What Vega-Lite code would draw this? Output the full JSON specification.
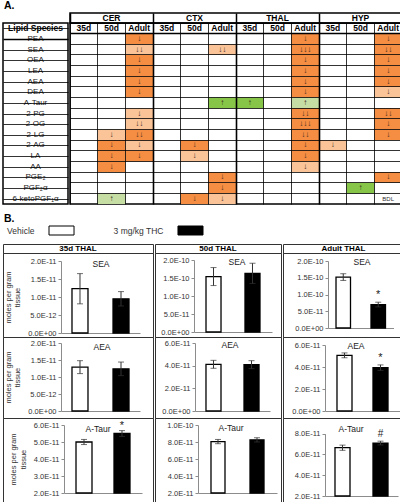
{
  "$schema": "https://vega.github.io/schema/vega-lite/v6.json",
  "padding": {"left": 2, "top": 0, "right": 0, "bottom": 0},
  "spacing": 0,
  "bounds": "full",
  "config": {
    "view": {"stroke": null},
    "font": "Liberation Sans",
    "text": {"font": "Liberation Sans", "color": "#222"},
    "axis": {"labelFont": "Liberation Sans", "titleFont": "Liberation Sans"},
    "title": {"font": "Liberation Sans", "color": "black"}
  },
  "datasets": {
    "names": [
      {"row": "hdr", "txt": "Lipid Species"},
      {"row": "PEA", "txt": "PEA"},
      {"row": "SEA", "txt": "SEA"},
      {"row": "OEA", "txt": "OEA"},
      {"row": "LEA", "txt": "LEA"},
      {"row": "AEA", "txt": "AEA"},
      {"row": "DEA", "txt": "DEA"},
      {"row": "A-Taur", "txt": "A-Taur"},
      {"row": "2-PG", "txt": "2-PG"},
      {"row": "2-OG", "txt": "2-OG"},
      {"row": "2-LG", "txt": "2-LG"},
      {"row": "2-AG", "txt": "2-AG"},
      {"row": "LA", "txt": "LA"},
      {"row": "AA", "txt": "AA"},
      {"row": "PGE2", "txt": "PGE₂"},
      {"row": "PGF2a", "txt": "PGF₂α"},
      {"row": "6-keto", "txt": "6-ketoPGF₁α"}
    ],
    "regions": [
      {"region": "CER"}, {"region": "CTX"}, {"region": "THAL"}, {"region": "HYP"}
    ],
    "cells": [
      {"col": "CER 35d", "row": "hdr", "kind": "hdr", "txt": "35d"},
      {"col": "CER 50d", "row": "hdr", "kind": "hdr", "txt": "50d"},
      {"col": "CER Adult", "row": "hdr", "kind": "hdr", "txt": "Adult"},
      {"col": "CTX 35d", "row": "hdr", "kind": "hdr", "txt": "35d"},
      {"col": "CTX 50d", "row": "hdr", "kind": "hdr", "txt": "50d"},
      {"col": "CTX Adult", "row": "hdr", "kind": "hdr", "txt": "Adult"},
      {"col": "THAL 35d", "row": "hdr", "kind": "hdr", "txt": "35d"},
      {"col": "THAL 50d", "row": "hdr", "kind": "hdr", "txt": "50d"},
      {"col": "THAL Adult", "row": "hdr", "kind": "hdr", "txt": "Adult"},
      {"col": "HYP 35d", "row": "hdr", "kind": "hdr", "txt": "35d"},
      {"col": "HYP 50d", "row": "hdr", "kind": "hdr", "txt": "50d"},
      {"col": "HYP Adult", "row": "hdr", "kind": "hdr", "txt": "Adult"},

      {"col": "CER 50d", "row": "2-LG", "kind": "light", "txt": "↓"},
      {"col": "CER 50d", "row": "2-AG", "kind": "dark", "txt": "↓"},
      {"col": "CER 50d", "row": "LA", "kind": "dark", "txt": "↓"},
      {"col": "CER 50d", "row": "AA", "kind": "dark", "txt": "↓"},
      {"col": "CER 50d", "row": "6-keto", "kind": "lgreen", "txt": "↑"},

      {"col": "CER Adult", "row": "PEA", "kind": "dark", "txt": "↓"},
      {"col": "CER Adult", "row": "SEA", "kind": "light", "txt": "↓↓"},
      {"col": "CER Adult", "row": "OEA", "kind": "dark", "txt": "↓"},
      {"col": "CER Adult", "row": "LEA", "kind": "dark", "txt": "↓"},
      {"col": "CER Adult", "row": "AEA", "kind": "dark", "txt": "↓"},
      {"col": "CER Adult", "row": "DEA", "kind": "dark", "txt": "↓"},
      {"col": "CER Adult", "row": "2-PG", "kind": "light", "txt": "↓"},
      {"col": "CER Adult", "row": "2-OG", "kind": "light", "txt": "↓↓"},
      {"col": "CER Adult", "row": "2-LG", "kind": "dark", "txt": "↓↓"},
      {"col": "CER Adult", "row": "2-AG", "kind": "light", "txt": "↓"},
      {"col": "CER Adult", "row": "LA", "kind": "dark", "txt": "↓"},

      {"col": "CTX 50d", "row": "2-AG", "kind": "dark", "txt": "↓"},
      {"col": "CTX 50d", "row": "LA", "kind": "light", "txt": "↓"},
      {"col": "CTX 50d", "row": "6-keto", "kind": "dark", "txt": "↓"},

      {"col": "CTX Adult", "row": "SEA", "kind": "light", "txt": "↓↓"},
      {"col": "CTX Adult", "row": "A-Taur", "kind": "green", "txt": "↑"},
      {"col": "CTX Adult", "row": "PGE2", "kind": "dark", "txt": "↓"},
      {"col": "CTX Adult", "row": "PGF2a", "kind": "dark", "txt": "↓"},
      {"col": "CTX Adult", "row": "6-keto", "kind": "light", "txt": "↓"},

      {"col": "THAL 35d", "row": "A-Taur", "kind": "green", "txt": "↑"},

      {"col": "THAL Adult", "row": "PEA", "kind": "dark", "txt": "↓"},
      {"col": "THAL Adult", "row": "SEA", "kind": "dark", "txt": "↓↓↓"},
      {"col": "THAL Adult", "row": "OEA", "kind": "dark", "txt": "↓"},
      {"col": "THAL Adult", "row": "LEA", "kind": "dark", "txt": "↓"},
      {"col": "THAL Adult", "row": "AEA", "kind": "dark", "txt": "↓"},
      {"col": "THAL Adult", "row": "DEA", "kind": "dark", "txt": "↓"},
      {"col": "THAL Adult", "row": "A-Taur", "kind": "lgreen", "txt": "↑"},
      {"col": "THAL Adult", "row": "2-PG", "kind": "dark", "txt": "↓↓"},
      {"col": "THAL Adult", "row": "2-OG", "kind": "dark", "txt": "↓↓↓"},
      {"col": "THAL Adult", "row": "2-LG", "kind": "dark", "txt": "↓↓"},
      {"col": "THAL Adult", "row": "2-AG", "kind": "dark", "txt": "↓"},
      {"col": "THAL Adult", "row": "LA", "kind": "dark", "txt": "↓"},
      {"col": "THAL Adult", "row": "AA", "kind": "light", "txt": "↓"},

      {"col": "HYP 35d", "row": "2-AG", "kind": "light", "txt": "↓"},
      {"col": "HYP 50d", "row": "PGF2a", "kind": "green", "txt": "↑"},

      {"col": "HYP Adult", "row": "PEA", "kind": "dark", "txt": "↓"},
      {"col": "HYP Adult", "row": "SEA", "kind": "dark", "txt": "↓↓"},
      {"col": "HYP Adult", "row": "OEA", "kind": "dark", "txt": "↓"},
      {"col": "HYP Adult", "row": "LEA", "kind": "dark", "txt": "↓"},
      {"col": "HYP Adult", "row": "AEA", "kind": "dark", "txt": "↓"},
      {"col": "HYP Adult", "row": "DEA", "kind": "light", "txt": "↓"},
      {"col": "HYP Adult", "row": "2-PG", "kind": "dark", "txt": "↓↓"},
      {"col": "HYP Adult", "row": "2-OG", "kind": "dark", "txt": "↓"},
      {"col": "HYP Adult", "row": "2-LG", "kind": "dark", "txt": "↓"},
      {"col": "HYP Adult", "row": "PGE2", "kind": "dark", "txt": "↓"},
      {"col": "HYP Adult", "row": "6-keto", "kind": "none", "txt": "BDL"}
    ]
  },
  "vconcat": [
    {
      "width": 397, "height": 12,
      "data": {"values": [{"label": "A."}]},
      "mark": {"type": "text", "align": "left", "fontSize": 10.5, "fontWeight": "bold", "color": "black", "dx": 1},
      "encoding": {
        "x": {"field": "label", "type": "nominal", "bandPosition": 0, "scale": {"type": "band", "paddingInner": 0, "paddingOuter": 0}, "axis": null},
        "text": {"field": "label"}
      }
    },
    {
      "spacing": 0,
      "bounds": "full",
      "hconcat": [
        {
          "spacing": 0,
          "bounds": "flush",
          "vconcat": [
            {
              "width": 65, "height": 10,
              "data": {"values": []},
              "mark": {"type": "text"},
              "encoding": {"text": {"value": ""}}
            },
            {
              "width": 65, "height": 181,
              "data": {"name": "names"},
              "view": {"stroke": "black", "strokeWidth": 1.5},
              "encoding": {
                "y": {"field": "row", "type": "nominal", "title": null,
                  "scale": {"domain": ["hdr","PEA","SEA","OEA","LEA","AEA","DEA","A-Taur","2-PG","2-OG","2-LG","2-AG","LA","AA","PGE2","PGF2a","6-keto"], "paddingInner": 0, "paddingOuter": 0},
                  "axis": {"grid": true, "bandPosition": 0, "labels": false, "ticks": false, "domain": false, "title": null, "gridColor": "black", "zindex": 1,
                    "gridWidth": {"condition": {"test": "datum.value == 'PEA'", "value": 1.5}, "value": 0.8}}}
              },
              "layer": [
                {"transform": [{"filter": "datum.row == 'hdr'"}],
                 "mark": {"type": "text", "fontWeight": "bold", "fontSize": 8.5, "color": "black"},
                 "encoding": {"text": {"field": "txt"}}},
                {"transform": [{"filter": "datum.row != 'hdr'"}],
                 "mark": {"type": "text", "fontSize": 8},
                 "encoding": {"text": {"field": "txt"}}}
              ]
            }
          ]
        },
        {
          "spacing": 0,
          "bounds": "flush",
          "vconcat": [
            {
              "width": 332, "height": 10,
              "data": {"name": "regions"},
              "view": {"stroke": "black", "strokeWidth": 1.5},
              "mark": {"type": "text", "fontWeight": "bold", "fontSize": 8.5, "color": "black"},
              "encoding": {
                "x": {"field": "region", "type": "nominal", "title": null,
                  "scale": {"type": "band", "domain": ["CER","CTX","THAL","HYP"], "paddingInner": 0, "paddingOuter": 0},
                  "axis": {"grid": true, "bandPosition": 0, "labels": false, "ticks": false, "domain": false, "title": null, "gridColor": "black", "gridWidth": 1.5, "zindex": 1}},
                "text": {"field": "region"}
              }
            },
            {
              "width": 332, "height": 181,
              "data": {"name": "cells"},
              "view": {"stroke": "black", "strokeWidth": 1.5},
              "encoding": {
                "x": {"field": "col", "type": "nominal", "title": null,
                  "scale": {"domain": ["CER 35d","CER 50d","CER Adult","CTX 35d","CTX 50d","CTX Adult","THAL 35d","THAL 50d","THAL Adult","HYP 35d","HYP 50d","HYP Adult"], "paddingInner": 0, "paddingOuter": 0},
                  "axis": {"grid": true, "bandPosition": 0, "labels": false, "ticks": false, "domain": false, "title": null, "gridColor": "black", "zindex": 1,
                    "gridWidth": {"condition": {"test": "indexof(['CTX 35d','THAL 35d','HYP 35d'], datum.value) >= 0", "value": 1.6}, "value": 0.8}}},
                "y": {"field": "row", "type": "nominal", "title": null,
                  "scale": {"domain": ["hdr","PEA","SEA","OEA","LEA","AEA","DEA","A-Taur","2-PG","2-OG","2-LG","2-AG","LA","AA","PGE2","PGF2a","6-keto"], "paddingInner": 0, "paddingOuter": 0},
                  "axis": {"grid": true, "bandPosition": 0, "labels": false, "ticks": false, "domain": false, "title": null, "gridColor": "black", "zindex": 1,
                    "gridWidth": {"condition": {"test": "datum.value == 'PEA'", "value": 1.5}, "value": 0.8}}}
              },
              "layer": [
                {"transform": [{"filter": "datum.kind != 'hdr' && datum.kind != 'none'"}],
                 "mark": {"type": "rect"},
                 "encoding": {"fill": {"field": "kind", "type": "nominal",
                   "scale": {"domain": ["dark","light","green","lgreen"], "range": ["#F58D42","#FAC398","#86C547","#C6DDA4"]}, "legend": null}}},
                {"transform": [{"filter": "datum.kind == 'hdr'"}],
                 "mark": {"type": "text", "fontWeight": "bold", "fontSize": 8.5, "color": "black"},
                 "encoding": {"text": {"field": "txt"}}},
                {"transform": [{"filter": "datum.kind != 'hdr' && datum.kind != 'none'"}],
                 "mark": {"type": "text", "fontSize": 8, "color": "#3a2a1a"},
                 "encoding": {"text": {"field": "txt"}}},
                {"transform": [{"filter": "datum.kind == 'none'"}],
                 "mark": {"type": "text", "fontSize": 6, "color": "#333"},
                 "encoding": {"text": {"field": "txt"}}}
              ]
            }
          ]
        }
      ]
    },
    {
      "width": 397, "height": 20,
      "data": {"values": [{"label": "B."}]},
      "mark": {"type": "text", "align": "left", "fontSize": 10.5, "fontWeight": "bold", "color": "black", "dx": 1, "dy": 4},
      "encoding": {
        "x": {"field": "label", "type": "nominal", "bandPosition": 0, "scale": {"type": "band", "paddingInner": 0, "paddingOuter": 0}, "axis": null},
        "text": {"field": "label"}
      }
    },
    {
      "width": 397, "height": 9,
      "data": {"values": [{"group": "Vehicle"}, {"group": "3 mg/kg THC"}]},
      "encoding": {
        "x": {"field": "group", "type": "nominal", "sort": null, "title": null,
          "scale": {"domain": ["Vehicle", "3 mg/kg THC"], "range": [46, 200], "paddingInner": 0.806, "paddingOuter": 0},
          "axis": null}
      },
      "layer": [
        {"mark": {"type": "rect", "stroke": "black", "strokeWidth": 1},
         "encoding": {"color": {"field": "group", "type": "nominal", "scale": {"domain": ["Vehicle", "3 mg/kg THC"], "range": ["white", "black"]}, "legend": null}}},
        {"mark": {"type": "text", "align": "right", "dx": -27, "fontSize": 8.5, "color": "#333"},
         "encoding": {"text": {"field": "group"}}}
      ]
    },
    {
      "width": 397, "height": 7,
      "data": {"values": []},
      "mark": {"type": "text"},
      "encoding": {"text": {"value": ""}}
    },
    {
      "spacing": 0,
      "bounds": "full",
      "hconcat": [
        {
          "spacing": 0,
          "bounds": "flush",
          "vconcat": [
            {"width": 150, "height": 9, "data": {"values": [{"h": "35d THAL"}]}, "view": {"stroke": "#333"},
             "mark": {"type": "text", "fontWeight": "bold", "fontSize": 8, "color": "black"}, "encoding": {"text": {"field": "h"}}},
            {
              "width": 150, "height": 84,
              "view": {"stroke": "#333", "strokeWidth": 1},
              "data": {"values": [
                {"group": "Vehicle", "lipid": "SEA", "mean": 1.23e-11, "lo": 0.81e-11, "hi": 1.65e-11, "sig": ""},
                {"group": "3 mg/kg THC", "lipid": "SEA", "mean": 0.95e-11, "lo": 0.75e-11, "hi": 1.15e-11, "sig": ""}
              ]},
              "encoding": {
                "x": {"field": "group", "type": "nominal", "sort": null, "title": null,
                  "scale": {"domain": ["Vehicle", "3 mg/kg THC"], "range": [58, 137], "paddingInner": 0.61, "paddingOuter": 0.268},
                  "axis": {"labels": false, "ticks": false, "grid": false, "domainColor": "#8c8c8c", "offset": -4, "title": null}}
              },
              "layer": [
                {"mark": {"type": "bar", "stroke": "black", "strokeWidth": 1.3},
                 "encoding": {
                   "y": {"field": "mean", "type": "quantitative", "title": ["moles per gram", "tissue"],
                     "scale": {"domain": [0, 2e-11], "range": [80, 8], "zero": false, "nice": false},
                     "axis": {"values": [0, 5e-12, 1e-11, 1.5e-11, 2e-11], "labelExpr": "datum.value == 0 ? '0.0E+00' : upper(format(datum.value, '.1e'))", "offset": -58, "domainColor": "#8c8c8c", "tickColor": "#8c8c8c", "tickSize": 3, "labelFontSize": 7.5, "labelColor": "#333", "labelPadding": 2, "labelOverlap": false, "labelFlush": false, "grid": false, "titleFontSize": 7.5, "titleFontWeight": "normal", "titleColor": "#333", "titlePadding": 6}},
                   "y2": {"datum": 0},
                   "color": {"field": "group", "type": "nominal", "scale": {"domain": ["Vehicle", "3 mg/kg THC"], "range": ["white", "black"]}, "legend": null}
                 }},
                {"mark": {"type": "errorbar", "ticks": {"size": 6}, "color": "#333", "thickness": 1},
                 "encoding": {"y": {"field": "lo", "type": "quantitative", "title": ["moles per gram", "tissue"],
                   "axis": {"values": [0, 5e-12, 1e-11, 1.5e-11, 2e-11], "labelExpr": "datum.value == 0 ? '0.0E+00' : upper(format(datum.value, '.1e'))", "offset": -58, "domainColor": "#8c8c8c", "tickColor": "#8c8c8c", "tickSize": 3, "labelFontSize": 7.5, "labelColor": "#333", "labelPadding": 2, "labelOverlap": false, "labelFlush": false, "grid": false, "titleFontSize": 7.5, "titleFontWeight": "normal", "titleColor": "#333", "titlePadding": 6}},
                   "y2": {"field": "hi"}}},
                {"mark": {"type": "text", "fontSize": 11, "baseline": "bottom", "dy": -1},
                 "encoding": {"y": {"field": "hi", "type": "quantitative", "title": ["moles per gram", "tissue"],
                   "axis": {"values": [0, 5e-12, 1e-11, 1.5e-11, 2e-11], "labelExpr": "datum.value == 0 ? '0.0E+00' : upper(format(datum.value, '.1e'))", "offset": -58, "domainColor": "#8c8c8c", "tickColor": "#8c8c8c", "tickSize": 3, "labelFontSize": 7.5, "labelColor": "#333", "labelPadding": 2, "labelOverlap": false, "labelFlush": false, "grid": false, "titleFontSize": 7.5, "titleFontWeight": "normal", "titleColor": "#333", "titlePadding": 6}},
                   "text": {"field": "sig"}}},
                {"transform": [{"filter": "datum.group == 'Vehicle'"}],
                 "mark": {"type": "text", "fontSize": 8.5, "dx": 21, "dy": 3},
                 "encoding": {"y": {"datum": 2e-11, "type": "quantitative", "title": ["moles per gram", "tissue"],
                   "axis": {"values": [0, 5e-12, 1e-11, 1.5e-11, 2e-11], "labelExpr": "datum.value == 0 ? '0.0E+00' : upper(format(datum.value, '.1e'))", "offset": -58, "domainColor": "#8c8c8c", "tickColor": "#8c8c8c", "tickSize": 3, "labelFontSize": 7.5, "labelColor": "#333", "labelPadding": 2, "labelOverlap": false, "labelFlush": false, "grid": false, "titleFontSize": 7.5, "titleFontWeight": "normal", "titleColor": "#333", "titlePadding": 6}},
                   "text": {"field": "lipid"}}}
              ]
            },
            {
              "width": 150, "height": 81,
              "view": {"stroke": "#333", "strokeWidth": 1},
              "data": {"values": [
                {"group": "Vehicle", "lipid": "AEA", "mean": 1.29e-11, "lo": 1.10e-11, "hi": 1.48e-11, "sig": ""},
                {"group": "3 mg/kg THC", "lipid": "AEA", "mean": 1.24e-11, "lo": 1.04e-11, "hi": 1.44e-11, "sig": ""}
              ]},
              "encoding": {
                "x": {"field": "group", "type": "nominal", "sort": null, "title": null,
                  "scale": {"domain": ["Vehicle", "3 mg/kg THC"], "range": [58, 137], "paddingInner": 0.61, "paddingOuter": 0.268},
                  "axis": {"labels": false, "ticks": false, "grid": false, "domainColor": "#8c8c8c", "offset": -7, "title": null}}
              },
              "layer": [
                {"mark": {"type": "bar", "stroke": "black", "strokeWidth": 1.3},
                 "encoding": {
                   "y": {"field": "mean", "type": "quantitative", "title": ["moles per gram", "tissue"],
                     "scale": {"domain": [0, 2e-11], "range": [74, 6], "zero": false, "nice": false},
                     "axis": {"values": [0, 5e-12, 1e-11, 1.5e-11, 2e-11], "labelExpr": "datum.value == 0 ? '0.0E+00' : upper(format(datum.value, '.1e'))", "offset": -58, "domainColor": "#8c8c8c", "tickColor": "#8c8c8c", "tickSize": 3, "labelFontSize": 7.5, "labelColor": "#333", "labelPadding": 2, "labelOverlap": false, "labelFlush": false, "grid": false, "titleFontSize": 7.5, "titleFontWeight": "normal", "titleColor": "#333", "titlePadding": 6}},
                   "y2": {"datum": 0},
                   "color": {"field": "group", "type": "nominal", "scale": {"domain": ["Vehicle", "3 mg/kg THC"], "range": ["white", "black"]}, "legend": null}
                 }},
                {"mark": {"type": "errorbar", "ticks": {"size": 6}, "color": "#333", "thickness": 1},
                 "encoding": {"y": {"field": "lo", "type": "quantitative", "title": ["moles per gram", "tissue"],
                   "axis": {"values": [0, 5e-12, 1e-11, 1.5e-11, 2e-11], "labelExpr": "datum.value == 0 ? '0.0E+00' : upper(format(datum.value, '.1e'))", "offset": -58, "domainColor": "#8c8c8c", "tickColor": "#8c8c8c", "tickSize": 3, "labelFontSize": 7.5, "labelColor": "#333", "labelPadding": 2, "labelOverlap": false, "labelFlush": false, "grid": false, "titleFontSize": 7.5, "titleFontWeight": "normal", "titleColor": "#333", "titlePadding": 6}},
                   "y2": {"field": "hi"}}},
                {"mark": {"type": "text", "fontSize": 11, "baseline": "bottom", "dy": -1},
                 "encoding": {"y": {"field": "hi", "type": "quantitative", "title": ["moles per gram", "tissue"],
                   "axis": {"values": [0, 5e-12, 1e-11, 1.5e-11, 2e-11], "labelExpr": "datum.value == 0 ? '0.0E+00' : upper(format(datum.value, '.1e'))", "offset": -58, "domainColor": "#8c8c8c", "tickColor": "#8c8c8c", "tickSize": 3, "labelFontSize": 7.5, "labelColor": "#333", "labelPadding": 2, "labelOverlap": false, "labelFlush": false, "grid": false, "titleFontSize": 7.5, "titleFontWeight": "normal", "titleColor": "#333", "titlePadding": 6}},
                   "text": {"field": "sig"}}},
                {"transform": [{"filter": "datum.group == 'Vehicle'"}],
                 "mark": {"type": "text", "fontSize": 8.5, "dx": 22, "dy": 4},
                 "encoding": {"y": {"datum": 2e-11, "type": "quantitative", "title": ["moles per gram", "tissue"],
                   "axis": {"values": [0, 5e-12, 1e-11, 1.5e-11, 2e-11], "labelExpr": "datum.value == 0 ? '0.0E+00' : upper(format(datum.value, '.1e'))", "offset": -58, "domainColor": "#8c8c8c", "tickColor": "#8c8c8c", "tickSize": 3, "labelFontSize": 7.5, "labelColor": "#333", "labelPadding": 2, "labelOverlap": false, "labelFlush": false, "grid": false, "titleFontSize": 7.5, "titleFontWeight": "normal", "titleColor": "#333", "titlePadding": 6}},
                   "text": {"field": "lipid"}}}
              ]
            },
            {
              "width": 150, "height": 84,
              "view": {"stroke": "#333", "strokeWidth": 1},
              "data": {"values": [
                {"group": "Vehicle", "lipid": "A-Taur", "mean": 5.0e-11, "lo": 4.85e-11, "hi": 5.15e-11, "sig": ""},
                {"group": "3 mg/kg THC", "lipid": "A-Taur", "mean": 5.5e-11, "lo": 5.33e-11, "hi": 5.67e-11, "sig": "*"}
              ]},
              "encoding": {
                "x": {"field": "group", "type": "nominal", "sort": null, "title": null,
                  "scale": {"domain": ["Vehicle", "3 mg/kg THC"], "range": [61, 139], "paddingInner": 0.579, "paddingOuter": 0.316},
                  "axis": {"labels": false, "ticks": false, "grid": false, "domainColor": "#8c8c8c", "offset": -9, "title": null}}
              },
              "layer": [
                {"mark": {"type": "bar", "stroke": "black", "strokeWidth": 1.3},
                 "encoding": {
                   "y": {"field": "mean", "type": "quantitative", "title": ["moles per gram", "tissue"],
                     "scale": {"domain": [2e-11, 6e-11], "range": [75, 7], "zero": false, "nice": false},
                     "axis": {"values": [2e-11, 3e-11, 4e-11, 5e-11, 6e-11], "labelExpr": "datum.value == 0 ? '0.0E+00' : upper(format(datum.value, '.1e'))", "offset": -61, "domainColor": "#8c8c8c", "tickColor": "#8c8c8c", "tickSize": 3, "labelFontSize": 7.5, "labelColor": "#333", "labelPadding": 2, "labelOverlap": false, "labelFlush": false, "grid": false, "titleFontSize": 7.5, "titleFontWeight": "normal", "titleColor": "#333", "titlePadding": 6}},
                   "y2": {"datum": 2e-11},
                   "color": {"field": "group", "type": "nominal", "scale": {"domain": ["Vehicle", "3 mg/kg THC"], "range": ["white", "black"]}, "legend": null}
                 }},
                {"mark": {"type": "errorbar", "ticks": {"size": 6}, "color": "#333", "thickness": 1},
                 "encoding": {"y": {"field": "lo", "type": "quantitative", "title": ["moles per gram", "tissue"],
                   "axis": {"values": [2e-11, 3e-11, 4e-11, 5e-11, 6e-11], "labelExpr": "datum.value == 0 ? '0.0E+00' : upper(format(datum.value, '.1e'))", "offset": -61, "domainColor": "#8c8c8c", "tickColor": "#8c8c8c", "tickSize": 3, "labelFontSize": 7.5, "labelColor": "#333", "labelPadding": 2, "labelOverlap": false, "labelFlush": false, "grid": false, "titleFontSize": 7.5, "titleFontWeight": "normal", "titleColor": "#333", "titlePadding": 6}},
                   "y2": {"field": "hi"}}},
                {"mark": {"type": "text", "fontSize": 11, "baseline": "bottom", "dy": 0},
                 "encoding": {"y": {"field": "hi", "type": "quantitative", "title": ["moles per gram", "tissue"],
                   "axis": {"values": [2e-11, 3e-11, 4e-11, 5e-11, 6e-11], "labelExpr": "datum.value == 0 ? '0.0E+00' : upper(format(datum.value, '.1e'))", "offset": -61, "domainColor": "#8c8c8c", "tickColor": "#8c8c8c", "tickSize": 3, "labelFontSize": 7.5, "labelColor": "#333", "labelPadding": 2, "labelOverlap": false, "labelFlush": false, "grid": false, "titleFontSize": 7.5, "titleFontWeight": "normal", "titleColor": "#333", "titlePadding": 6}},
                   "text": {"field": "sig"}}},
                {"transform": [{"filter": "datum.group == 'Vehicle'"}],
                 "mark": {"type": "text", "fontSize": 8.5, "dx": 14, "dy": 4},
                 "encoding": {"y": {"datum": 6e-11, "type": "quantitative", "title": ["moles per gram", "tissue"],
                   "axis": {"values": [2e-11, 3e-11, 4e-11, 5e-11, 6e-11], "labelExpr": "datum.value == 0 ? '0.0E+00' : upper(format(datum.value, '.1e'))", "offset": -61, "domainColor": "#8c8c8c", "tickColor": "#8c8c8c", "tickSize": 3, "labelFontSize": 7.5, "labelColor": "#333", "labelPadding": 2, "labelOverlap": false, "labelFlush": false, "grid": false, "titleFontSize": 7.5, "titleFontWeight": "normal", "titleColor": "#333", "titlePadding": 6}},
                   "text": {"field": "lipid"}}}
              ]
            }
          ]
        },
        {
          "spacing": 0,
          "bounds": "flush",
          "vconcat": [
            {"width": 126, "height": 9, "data": {"values": [{"h": "50d THAL"}]}, "view": {"stroke": "#333"},
             "mark": {"type": "text", "fontWeight": "bold", "fontSize": 8, "color": "black"}, "encoding": {"text": {"field": "h"}}},
            {
              "width": 126, "height": 84,
              "view": {"stroke": "#333", "strokeWidth": 1},
              "data": {"values": [
                {"group": "Vehicle", "lipid": "SEA", "mean": 1.54e-10, "lo": 1.29e-10, "hi": 1.79e-10, "sig": ""},
                {"group": "3 mg/kg THC", "lipid": "SEA", "mean": 1.63e-10, "lo": 1.35e-10, "hi": 1.91e-10, "sig": ""}
              ]},
              "encoding": {
                "x": {"field": "group", "type": "nominal", "sort": null, "title": null,
                  "scale": {"domain": ["Vehicle", "3 mg/kg THC"], "range": [39, 117], "paddingInner": 0.615, "paddingOuter": 0.308},
                  "axis": {"labels": false, "ticks": false, "grid": false, "domainColor": "#8c8c8c", "offset": -5, "title": null}}
              },
              "layer": [
                {"mark": {"type": "bar", "stroke": "black", "strokeWidth": 1.3},
                 "encoding": {
                   "y": {"field": "mean", "type": "quantitative", "title": null,
                     "scale": {"domain": [0, 2e-10], "range": [79, 7], "zero": false, "nice": false},
                     "axis": {"values": [0, 5e-11, 1e-10, 1.5e-10, 2e-10], "labelExpr": "datum.value == 0 ? '0.0E+00' : upper(format(datum.value, '.1e'))", "offset": -39, "domainColor": "#8c8c8c", "tickColor": "#8c8c8c", "tickSize": 3, "labelFontSize": 7.5, "labelColor": "#333", "labelPadding": 2, "labelOverlap": false, "labelFlush": false, "grid": false}},
                   "y2": {"datum": 0},
                   "color": {"field": "group", "type": "nominal", "scale": {"domain": ["Vehicle", "3 mg/kg THC"], "range": ["white", "black"]}, "legend": null}
                 }},
                {"mark": {"type": "errorbar", "ticks": {"size": 6}, "color": "#333", "thickness": 1},
                 "encoding": {"y": {"field": "lo", "type": "quantitative", "title": null,
                   "axis": {"values": [0, 5e-11, 1e-10, 1.5e-10, 2e-10], "labelExpr": "datum.value == 0 ? '0.0E+00' : upper(format(datum.value, '.1e'))", "offset": -39, "domainColor": "#8c8c8c", "tickColor": "#8c8c8c", "tickSize": 3, "labelFontSize": 7.5, "labelColor": "#333", "labelPadding": 2, "labelOverlap": false, "labelFlush": false, "grid": false}},
                   "y2": {"field": "hi"}}},
                {"mark": {"type": "text", "fontSize": 11, "baseline": "bottom", "dy": -1},
                 "encoding": {"y": {"field": "hi", "type": "quantitative", "title": null,
                   "axis": {"values": [0, 5e-11, 1e-10, 1.5e-10, 2e-10], "labelExpr": "datum.value == 0 ? '0.0E+00' : upper(format(datum.value, '.1e'))", "offset": -39, "domainColor": "#8c8c8c", "tickColor": "#8c8c8c", "tickSize": 3, "labelFontSize": 7.5, "labelColor": "#333", "labelPadding": 2, "labelOverlap": false, "labelFlush": false, "grid": false}},
                   "text": {"field": "sig"}}},
                {"transform": [{"filter": "datum.group == 'Vehicle'"}],
                 "mark": {"type": "text", "fontSize": 8.5, "dx": 23.5, "dy": 2},
                 "encoding": {"y": {"datum": 2e-10, "type": "quantitative", "title": null,
                   "axis": {"values": [0, 5e-11, 1e-10, 1.5e-10, 2e-10], "labelExpr": "datum.value == 0 ? '0.0E+00' : upper(format(datum.value, '.1e'))", "offset": -39, "domainColor": "#8c8c8c", "tickColor": "#8c8c8c", "tickSize": 3, "labelFontSize": 7.5, "labelColor": "#333", "labelPadding": 2, "labelOverlap": false, "labelFlush": false, "grid": false}},
                   "text": {"field": "lipid"}}}
              ]
            },
            {
              "width": 126, "height": 81,
              "view": {"stroke": "#333", "strokeWidth": 1},
              "data": {"values": [
                {"group": "Vehicle", "lipid": "AEA", "mean": 4.12e-11, "lo": 3.77e-11, "hi": 4.47e-11, "sig": ""},
                {"group": "3 mg/kg THC", "lipid": "AEA", "mean": 4.09e-11, "lo": 3.74e-11, "hi": 4.44e-11, "sig": ""}
              ]},
              "encoding": {
                "x": {"field": "group", "type": "nominal", "sort": null, "title": null,
                  "scale": {"domain": ["Vehicle", "3 mg/kg THC"], "range": [40, 115], "paddingInner": 0.605, "paddingOuter": 0.289},
                  "axis": {"labels": false, "ticks": false, "grid": false, "domainColor": "#8c8c8c", "offset": -7, "title": null}}
              },
              "layer": [
                {"mark": {"type": "bar", "stroke": "black", "strokeWidth": 1.3},
                 "encoding": {
                   "y": {"field": "mean", "type": "quantitative", "title": null,
                     "scale": {"domain": [0, 6e-11], "range": [74, 6], "zero": false, "nice": false},
                     "axis": {"values": [0, 2e-11, 4e-11, 6e-11], "labelExpr": "datum.value == 0 ? '0.0E+00' : upper(format(datum.value, '.1e'))", "offset": -40, "domainColor": "#8c8c8c", "tickColor": "#8c8c8c", "tickSize": 3, "labelFontSize": 7.5, "labelColor": "#333", "labelPadding": 2, "labelOverlap": false, "labelFlush": false, "grid": false}},
                   "y2": {"datum": 0},
                   "color": {"field": "group", "type": "nominal", "scale": {"domain": ["Vehicle", "3 mg/kg THC"], "range": ["white", "black"]}, "legend": null}
                 }},
                {"mark": {"type": "errorbar", "ticks": {"size": 6}, "color": "#333", "thickness": 1},
                 "encoding": {"y": {"field": "lo", "type": "quantitative", "title": null,
                   "axis": {"values": [0, 2e-11, 4e-11, 6e-11], "labelExpr": "datum.value == 0 ? '0.0E+00' : upper(format(datum.value, '.1e'))", "offset": -40, "domainColor": "#8c8c8c", "tickColor": "#8c8c8c", "tickSize": 3, "labelFontSize": 7.5, "labelColor": "#333", "labelPadding": 2, "labelOverlap": false, "labelFlush": false, "grid": false}},
                   "y2": {"field": "hi"}}},
                {"mark": {"type": "text", "fontSize": 11, "baseline": "bottom", "dy": -1},
                 "encoding": {"y": {"field": "hi", "type": "quantitative", "title": null,
                   "axis": {"values": [0, 2e-11, 4e-11, 6e-11], "labelExpr": "datum.value == 0 ? '0.0E+00' : upper(format(datum.value, '.1e'))", "offset": -40, "domainColor": "#8c8c8c", "tickColor": "#8c8c8c", "tickSize": 3, "labelFontSize": 7.5, "labelColor": "#333", "labelPadding": 2, "labelOverlap": false, "labelFlush": false, "grid": false}},
                   "text": {"field": "sig"}}},
                {"transform": [{"filter": "datum.group == 'Vehicle'"}],
                 "mark": {"type": "text", "fontSize": 8.5, "dx": 16.5, "dy": 2},
                 "encoding": {"y": {"datum": 6e-11, "type": "quantitative", "title": null,
                   "axis": {"values": [0, 2e-11, 4e-11, 6e-11], "labelExpr": "datum.value == 0 ? '0.0E+00' : upper(format(datum.value, '.1e'))", "offset": -40, "domainColor": "#8c8c8c", "tickColor": "#8c8c8c", "tickSize": 3, "labelFontSize": 7.5, "labelColor": "#333", "labelPadding": 2, "labelOverlap": false, "labelFlush": false, "grid": false}},
                   "text": {"field": "lipid"}}}
              ]
            },
            {
              "width": 126, "height": 84,
              "view": {"stroke": "#333", "strokeWidth": 1},
              "data": {"values": [
                {"group": "Vehicle", "lipid": "A-Taur", "mean": 8.05e-11, "lo": 7.8e-11, "hi": 8.3e-11, "sig": ""},
                {"group": "3 mg/kg THC", "lipid": "A-Taur", "mean": 8.25e-11, "lo": 8.0e-11, "hi": 8.5e-11, "sig": ""}
              ]},
              "encoding": {
                "x": {"field": "group", "type": "nominal", "sort": null, "title": null,
                  "scale": {"domain": ["Vehicle", "3 mg/kg THC"], "range": [43, 122], "paddingInner": 0.641, "paddingOuter": 0.333},
                  "axis": {"labels": false, "ticks": false, "grid": false, "domainColor": "#8c8c8c", "offset": -9, "title": null}}
              },
              "layer": [
                {"mark": {"type": "bar", "stroke": "black", "strokeWidth": 1.3},
                 "encoding": {
                   "y": {"field": "mean", "type": "quantitative", "title": null,
                     "scale": {"domain": [2e-11, 1e-10], "range": [75, 7], "zero": false, "nice": false},
                     "axis": {"values": [2e-11, 4e-11, 6e-11, 8e-11, 1e-10], "labelExpr": "datum.value == 0 ? '0.0E+00' : upper(format(datum.value, '.1e'))", "offset": -43, "domainColor": "#8c8c8c", "tickColor": "#8c8c8c", "tickSize": 3, "labelFontSize": 7.5, "labelColor": "#333", "labelPadding": 2, "labelOverlap": false, "labelFlush": false, "grid": false}},
                   "y2": {"datum": 2e-11},
                   "color": {"field": "group", "type": "nominal", "scale": {"domain": ["Vehicle", "3 mg/kg THC"], "range": ["white", "black"]}, "legend": null}
                 }},
                {"mark": {"type": "errorbar", "ticks": {"size": 6}, "color": "#333", "thickness": 1},
                 "encoding": {"y": {"field": "lo", "type": "quantitative", "title": null,
                   "axis": {"values": [2e-11, 4e-11, 6e-11, 8e-11, 1e-10], "labelExpr": "datum.value == 0 ? '0.0E+00' : upper(format(datum.value, '.1e'))", "offset": -43, "domainColor": "#8c8c8c", "tickColor": "#8c8c8c", "tickSize": 3, "labelFontSize": 7.5, "labelColor": "#333", "labelPadding": 2, "labelOverlap": false, "labelFlush": false, "grid": false}},
                   "y2": {"field": "hi"}}},
                {"mark": {"type": "text", "fontSize": 11, "baseline": "bottom", "dy": -1},
                 "encoding": {"y": {"field": "hi", "type": "quantitative", "title": null,
                   "axis": {"values": [2e-11, 4e-11, 6e-11, 8e-11, 1e-10], "labelExpr": "datum.value == 0 ? '0.0E+00' : upper(format(datum.value, '.1e'))", "offset": -43, "domainColor": "#8c8c8c", "tickColor": "#8c8c8c", "tickSize": 3, "labelFontSize": 7.5, "labelColor": "#333", "labelPadding": 2, "labelOverlap": false, "labelFlush": false, "grid": false}},
                   "text": {"field": "sig"}}},
                {"transform": [{"filter": "datum.group == 'Vehicle'"}],
                 "mark": {"type": "text", "fontSize": 8.5, "dx": 13, "dy": 2.5},
                 "encoding": {"y": {"datum": 1e-10, "type": "quantitative", "title": null,
                   "axis": {"values": [2e-11, 4e-11, 6e-11, 8e-11, 1e-10], "labelExpr": "datum.value == 0 ? '0.0E+00' : upper(format(datum.value, '.1e'))", "offset": -43, "domainColor": "#8c8c8c", "tickColor": "#8c8c8c", "tickSize": 3, "labelFontSize": 7.5, "labelColor": "#333", "labelPadding": 2, "labelOverlap": false, "labelFlush": false, "grid": false}},
                   "text": {"field": "lipid"}}}
              ]
            }
          ]
        },
        {
          "spacing": 0,
          "bounds": "flush",
          "vconcat": [
            {"width": 121, "height": 9, "data": {"values": [{"h": "Adult THAL"}]}, "view": {"stroke": "#333"},
             "mark": {"type": "text", "fontWeight": "bold", "fontSize": 8, "color": "black"}, "encoding": {"text": {"field": "h"}}},
            {
              "width": 121, "height": 84,
              "view": {"stroke": "#333", "strokeWidth": 1},
              "data": {"values": [
                {"group": "Vehicle", "lipid": "SEA", "mean": 1.52e-10, "lo": 1.42e-10, "hi": 1.62e-10, "sig": ""},
                {"group": "3 mg/kg THC", "lipid": "SEA", "mean": 0.70e-10, "lo": 0.63e-10, "hi": 0.77e-10, "sig": "*"}
              ]},
              "encoding": {
                "x": {"field": "group", "type": "nominal", "sort": null, "title": null,
                  "scale": {"domain": ["Vehicle", "3 mg/kg THC"], "range": [45, 110.5], "paddingInner": 0.586, "paddingOuter": 0.229},
                  "axis": {"labels": false, "ticks": false, "grid": false, "domainColor": "#8c8c8c", "offset": -9, "title": null}}
              },
              "layer": [
                {"mark": {"type": "bar", "stroke": "black", "strokeWidth": 1.3},
                 "encoding": {
                   "y": {"field": "mean", "type": "quantitative", "title": null,
                     "scale": {"domain": [0, 2e-10], "range": [75, 8], "zero": false, "nice": false},
                     "axis": {"values": [0, 5e-11, 1e-10, 1.5e-10, 2e-10], "labelExpr": "datum.value == 0 ? '0.0E+00' : upper(format(datum.value, '.1e'))", "offset": -45, "domainColor": "#8c8c8c", "tickColor": "#8c8c8c", "tickSize": 3, "labelFontSize": 7.5, "labelColor": "#333", "labelPadding": 2, "labelOverlap": false, "labelFlush": false, "grid": false}},
                   "y2": {"datum": 0},
                   "color": {"field": "group", "type": "nominal", "scale": {"domain": ["Vehicle", "3 mg/kg THC"], "range": ["white", "black"]}, "legend": null}
                 }},
                {"mark": {"type": "errorbar", "ticks": {"size": 6}, "color": "#333", "thickness": 1},
                 "encoding": {"y": {"field": "lo", "type": "quantitative", "title": null,
                   "axis": {"values": [0, 5e-11, 1e-10, 1.5e-10, 2e-10], "labelExpr": "datum.value == 0 ? '0.0E+00' : upper(format(datum.value, '.1e'))", "offset": -45, "domainColor": "#8c8c8c", "tickColor": "#8c8c8c", "tickSize": 3, "labelFontSize": 7.5, "labelColor": "#333", "labelPadding": 2, "labelOverlap": false, "labelFlush": false, "grid": false}},
                   "y2": {"field": "hi"}}},
                {"mark": {"type": "text", "fontSize": 11, "baseline": "bottom", "dy": -2},
                 "encoding": {"y": {"field": "hi", "type": "quantitative", "title": null,
                   "axis": {"values": [0, 5e-11, 1e-10, 1.5e-10, 2e-10], "labelExpr": "datum.value == 0 ? '0.0E+00' : upper(format(datum.value, '.1e'))", "offset": -45, "domainColor": "#8c8c8c", "tickColor": "#8c8c8c", "tickSize": 3, "labelFontSize": 7.5, "labelColor": "#333", "labelPadding": 2, "labelOverlap": false, "labelFlush": false, "grid": false}},
                   "text": {"field": "sig"}}},
                {"transform": [{"filter": "datum.group == 'Vehicle'"}],
                 "mark": {"type": "text", "fontSize": 8.5, "dx": 18.75, "dy": 1},
                 "encoding": {"y": {"datum": 2e-10, "type": "quantitative", "title": null,
                   "axis": {"values": [0, 5e-11, 1e-10, 1.5e-10, 2e-10], "labelExpr": "datum.value == 0 ? '0.0E+00' : upper(format(datum.value, '.1e'))", "offset": -45, "domainColor": "#8c8c8c", "tickColor": "#8c8c8c", "tickSize": 3, "labelFontSize": 7.5, "labelColor": "#333", "labelPadding": 2, "labelOverlap": false, "labelFlush": false, "grid": false}},
                   "text": {"field": "lipid"}}}
              ]
            },
            {
              "width": 121, "height": 81,
              "view": {"stroke": "#333", "strokeWidth": 1},
              "data": {"values": [
                {"group": "Vehicle", "lipid": "AEA", "mean": 5.06e-11, "lo": 4.84e-11, "hi": 5.28e-11, "sig": ""},
                {"group": "3 mg/kg THC", "lipid": "AEA", "mean": 3.94e-11, "lo": 3.69e-11, "hi": 4.19e-11, "sig": "*"}
              ]},
              "encoding": {
                "x": {"field": "group", "type": "nominal", "sort": null, "title": null,
                  "scale": {"domain": ["Vehicle", "3 mg/kg THC"], "range": [42, 117], "paddingInner": 0.583, "paddingOuter": 0.333},
                  "axis": {"labels": false, "ticks": false, "grid": false, "domainColor": "#8c8c8c", "offset": -7, "title": null}}
              },
              "layer": [
                {"mark": {"type": "bar", "stroke": "black", "strokeWidth": 1.3},
                 "encoding": {
                   "y": {"field": "mean", "type": "quantitative", "title": null,
                     "scale": {"domain": [0, 6e-11], "range": [74, 8], "zero": false, "nice": false},
                     "axis": {"values": [0, 2e-11, 4e-11, 6e-11], "labelExpr": "datum.value == 0 ? '0.0E+00' : upper(format(datum.value, '.1e'))", "offset": -42, "domainColor": "#8c8c8c", "tickColor": "#8c8c8c", "tickSize": 3, "labelFontSize": 7.5, "labelColor": "#333", "labelPadding": 2, "labelOverlap": false, "labelFlush": false, "grid": false}},
                   "y2": {"datum": 0},
                   "color": {"field": "group", "type": "nominal", "scale": {"domain": ["Vehicle", "3 mg/kg THC"], "range": ["white", "black"]}, "legend": null}
                 }},
                {"mark": {"type": "errorbar", "ticks": {"size": 6}, "color": "#333", "thickness": 1},
                 "encoding": {"y": {"field": "lo", "type": "quantitative", "title": null,
                   "axis": {"values": [0, 2e-11, 4e-11, 6e-11], "labelExpr": "datum.value == 0 ? '0.0E+00' : upper(format(datum.value, '.1e'))", "offset": -42, "domainColor": "#8c8c8c", "tickColor": "#8c8c8c", "tickSize": 3, "labelFontSize": 7.5, "labelColor": "#333", "labelPadding": 2, "labelOverlap": false, "labelFlush": false, "grid": false}},
                   "y2": {"field": "hi"}}},
                {"mark": {"type": "text", "fontSize": 11, "baseline": "bottom", "dy": -2},
                 "encoding": {"y": {"field": "hi", "type": "quantitative", "title": null,
                   "axis": {"values": [0, 2e-11, 4e-11, 6e-11], "labelExpr": "datum.value == 0 ? '0.0E+00' : upper(format(datum.value, '.1e'))", "offset": -42, "domainColor": "#8c8c8c", "tickColor": "#8c8c8c", "tickSize": 3, "labelFontSize": 7.5, "labelColor": "#333", "labelPadding": 2, "labelOverlap": false, "labelFlush": false, "grid": false}},
                   "text": {"field": "sig"}}},
                {"transform": [{"filter": "datum.group == 'Vehicle'"}],
                 "mark": {"type": "text", "fontSize": 8.5, "dx": 11.5, "dy": 1},
                 "encoding": {"y": {"datum": 6e-11, "type": "quantitative", "title": null,
                   "axis": {"values": [0, 2e-11, 4e-11, 6e-11], "labelExpr": "datum.value == 0 ? '0.0E+00' : upper(format(datum.value, '.1e'))", "offset": -42, "domainColor": "#8c8c8c", "tickColor": "#8c8c8c", "tickSize": 3, "labelFontSize": 7.5, "labelColor": "#333", "labelPadding": 2, "labelOverlap": false, "labelFlush": false, "grid": false}},
                   "text": {"field": "lipid"}}}
              ]
            },
            {
              "width": 121, "height": 84,
              "view": {"stroke": "#333", "strokeWidth": 1},
              "data": {"values": [
                {"group": "Vehicle", "lipid": "A-Taur", "mean": 6.65e-11, "lo": 6.4e-11, "hi": 6.9e-11, "sig": ""},
                {"group": "3 mg/kg THC", "lipid": "A-Taur", "mean": 7.1e-11, "lo": 6.92e-11, "hi": 7.28e-11, "sig": "#"}
              ]},
              "encoding": {
                "x": {"field": "group", "type": "nominal", "sort": null, "title": null,
                  "scale": {"domain": ["Vehicle", "3 mg/kg THC"], "range": [42, 115], "paddingInner": 0.605, "paddingOuter": 0.263},
                  "axis": {"labels": false, "ticks": false, "grid": false, "domainColor": "#8c8c8c", "offset": -6, "title": null}}
              },
              "layer": [
                {"mark": {"type": "bar", "stroke": "black", "strokeWidth": 1.3},
                 "encoding": {
                   "y": {"field": "mean", "type": "quantitative", "title": null,
                     "scale": {"domain": [2e-11, 8e-11], "range": [78, 15.7], "zero": false, "nice": false},
                     "axis": {"values": [2e-11, 4e-11, 6e-11, 8e-11], "labelExpr": "datum.value == 0 ? '0.0E+00' : upper(format(datum.value, '.1e'))", "offset": -42, "domainColor": "#8c8c8c", "tickColor": "#8c8c8c", "tickSize": 3, "labelFontSize": 7.5, "labelColor": "#333", "labelPadding": 2, "labelOverlap": false, "labelFlush": false, "grid": false}},
                   "y2": {"datum": 2e-11},
                   "color": {"field": "group", "type": "nominal", "scale": {"domain": ["Vehicle", "3 mg/kg THC"], "range": ["white", "black"]}, "legend": null}
                 }},
                {"mark": {"type": "errorbar", "ticks": {"size": 6}, "color": "#333", "thickness": 1},
                 "encoding": {"y": {"field": "lo", "type": "quantitative", "title": null,
                   "axis": {"values": [2e-11, 4e-11, 6e-11, 8e-11], "labelExpr": "datum.value == 0 ? '0.0E+00' : upper(format(datum.value, '.1e'))", "offset": -42, "domainColor": "#8c8c8c", "tickColor": "#8c8c8c", "tickSize": 3, "labelFontSize": 7.5, "labelColor": "#333", "labelPadding": 2, "labelOverlap": false, "labelFlush": false, "grid": false}},
                   "y2": {"field": "hi"}}},
                {"mark": {"type": "text", "fontSize": 10, "baseline": "bottom", "dy": -2},
                 "encoding": {"y": {"field": "hi", "type": "quantitative", "title": null,
                   "axis": {"values": [2e-11, 4e-11, 6e-11, 8e-11], "labelExpr": "datum.value == 0 ? '0.0E+00' : upper(format(datum.value, '.1e'))", "offset": -42, "domainColor": "#8c8c8c", "tickColor": "#8c8c8c", "tickSize": 3, "labelFontSize": 7.5, "labelColor": "#333", "labelPadding": 2, "labelOverlap": false, "labelFlush": false, "grid": false}},
                   "text": {"field": "sig"}}},
                {"transform": [{"filter": "datum.group == 'Vehicle'"}],
                 "mark": {"type": "text", "fontSize": 8.5, "dx": 8.5, "dy": -5},
                 "encoding": {"y": {"datum": 8e-11, "type": "quantitative", "title": null,
                   "axis": {"values": [2e-11, 4e-11, 6e-11, 8e-11], "labelExpr": "datum.value == 0 ? '0.0E+00' : upper(format(datum.value, '.1e'))", "offset": -42, "domainColor": "#8c8c8c", "tickColor": "#8c8c8c", "tickSize": 3, "labelFontSize": 7.5, "labelColor": "#333", "labelPadding": 2, "labelOverlap": false, "labelFlush": false, "grid": false}},
                   "text": {"field": "lipid"}}}
              ]
            }
          ]
        }
      ]
    }
  ]
}
